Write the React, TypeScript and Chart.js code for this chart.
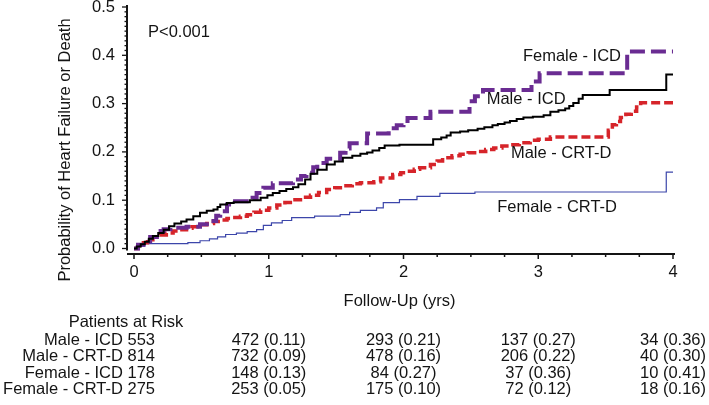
import React, { useEffect, useRef } from 'react';
import { Chart, registerables } from 'chart.js';

Chart.register(...registerables);

// ---------- data ----------
const maleIcdTime = [0, 0.02, 0.05, 0.08, 0.11, 0.14, 0.18, 0.22, 0.26, 0.30, 0.35, 0.39, 0.44, 0.49, 0.54, 0.59, 0.62, 0.64, 0.69, 0.74, 0.86, 0.94, 0.99, 1.03, 1.08, 1.13, 1.18, 1.22, 1.27, 1.31, 1.36, 1.43, 1.49, 1.55, 1.62, 1.68, 1.73, 1.77, 1.82, 1.86, 1.97, 2.22, 2.28, 2.32, 2.35, 2.42, 2.48, 2.55, 2.60, 2.66, 2.70, 2.75, 2.79, 2.84, 2.89, 2.96, 3.04, 3.09, 3.15, 3.20, 3.23, 3.26, 3.30, 3.33, 3.53, 3.95, 4.0];
const maleIcdProb = [0, 0.004, 0.009, 0.014, 0.020, 0.026, 0.032, 0.039, 0.046, 0.052, 0.056, 0.060, 0.067, 0.074, 0.078, 0.081, 0.086, 0.091, 0.094, 0.096, 0.100, 0.105, 0.110, 0.115, 0.119, 0.123, 0.127, 0.133, 0.143, 0.155, 0.163, 0.174, 0.180, 0.188, 0.192, 0.196, 0.199, 0.203, 0.208, 0.213, 0.215, 0.226, 0.230, 0.234, 0.240, 0.242, 0.245, 0.248, 0.251, 0.255, 0.258, 0.261, 0.264, 0.268, 0.271, 0.273, 0.276, 0.283, 0.286, 0.290, 0.295, 0.301, 0.310, 0.318, 0.328, 0.360, 0.360];

const maleCrtTime = [0, 0.03, 0.07, 0.10, 0.14, 0.19, 0.24, 0.29, 0.34, 0.39, 0.43, 0.49, 0.54, 0.59, 0.64, 0.69, 0.73, 0.79, 0.84, 0.89, 0.94, 1.0, 1.06, 1.12, 1.18, 1.25, 1.31, 1.37, 1.43, 1.49, 1.55, 1.62, 1.68, 1.78, 1.83, 1.92, 1.98, 2.03, 2.08, 2.12, 2.20, 2.25, 2.29, 2.36, 2.42, 2.48, 2.55, 2.61, 2.67, 2.73, 2.79, 2.86, 2.94, 3.0, 3.09, 3.52, 3.55, 3.58, 3.61, 3.65, 3.69, 3.73, 3.76, 4.0];
const maleCrtProb = [0, 0.005, 0.012, 0.018, 0.024, 0.028, 0.032, 0.036, 0.039, 0.042, 0.045, 0.049, 0.052, 0.056, 0.059, 0.062, 0.064, 0.067, 0.070, 0.075, 0.079, 0.084, 0.090, 0.095, 0.101, 0.106, 0.110, 0.116, 0.122, 0.126, 0.130, 0.134, 0.136, 0.138, 0.146, 0.153, 0.157, 0.160, 0.164, 0.167, 0.174, 0.181, 0.188, 0.192, 0.195, 0.198, 0.201, 0.205, 0.208, 0.212, 0.215, 0.219, 0.224, 0.226, 0.231, 0.245, 0.256, 0.263, 0.271, 0.278, 0.284, 0.293, 0.302, 0.302];

const femaleIcdTime = [0, 0.03, 0.07, 0.12, 0.17, 0.22, 0.27, 0.39, 0.49, 0.56, 0.61, 0.64, 0.69, 0.75, 0.88, 0.91, 0.96, 1.03, 1.18, 1.24, 1.28, 1.33, 1.36, 1.43, 1.53, 1.57, 1.60, 1.73, 1.89, 1.95, 2.0, 2.03, 2.20, 2.49, 2.53, 2.59, 2.95, 3.01, 3.66, 4.0];
const femaleIcdProb = [0, 0.008, 0.015, 0.024, 0.036, 0.040, 0.043, 0.045, 0.050, 0.057, 0.068, 0.077, 0.091, 0.098, 0.105, 0.115, 0.126, 0.135, 0.143, 0.150, 0.157, 0.168, 0.177, 0.186, 0.198, 0.207, 0.218, 0.238, 0.249, 0.255, 0.264, 0.270, 0.283, 0.305, 0.315, 0.328, 0.346, 0.363, 0.408, 0.408];

const femaleCrtTime = [0, 0.03, 0.08, 0.40, 0.49, 0.56, 0.62, 0.68, 0.76, 0.84, 0.91, 0.96, 1.02, 1.10, 1.17, 1.34, 1.53, 1.60, 1.68, 1.80, 1.85, 1.97, 2.10, 2.27, 2.53, 3.95, 4.0];
const femaleCrtProb = [0, 0.005, 0.010, 0.012, 0.016, 0.020, 0.024, 0.029, 0.032, 0.035, 0.039, 0.048, 0.053, 0.058, 0.064, 0.067, 0.070, 0.075, 0.079, 0.084, 0.095, 0.101, 0.108, 0.114, 0.117, 0.158, 0.158];

const xTickValues = [0, 1, 2, 3, 4];
const riskTimes = [1, 2, 3, 4];
const riskGroups = ['Male - ICD', 'Male - CRT-D', 'Female - ICD', 'Female - CRT-D'];
const riskBaseline = [553, 814, 178, 275];
const maleIcdAtRisk = [472, 293, 137, 34];
const maleIcdCumProb = [0.11, 0.21, 0.27, 0.36];
const maleCrtAtRisk = [732, 478, 206, 40];
const maleCrtCumProb = [0.09, 0.16, 0.22, 0.30];
const femaleIcdAtRisk = [148, 84, 37, 10];
const femaleIcdCumProb = [0.13, 0.27, 0.36, 0.41];
const femaleCrtAtRisk = [253, 175, 72, 18];
const femaleCrtCumProb = [0.05, 0.10, 0.12, 0.16];

// ---------- styling ----------
const FONT = '"Liberation Sans", Arial, Helvetica, sans-serif';
const FS = 16.5;
const INK = '#141414';

const toPoints = (t: number[], v: number[]) => t.map((x, i) => ({ x, y: v[i] }));

const curveLabels = [
  { text: 'Female - ICD', x: 3.25, y: 0.397 },
  { text: 'Male - ICD', x: 2.91, y: 0.308 },
  { text: 'Male - CRT-D', x: 3.17, y: 0.196 },
  { text: 'Female - CRT-D', x: 3.14, y: 0.086 },
];

const overlayPlugin = {
  id: 'overlay',
  afterDraw(chart: any) {
    const ctx = chart.ctx as CanvasRenderingContext2D;
    const xs = chart.scales.x;
    const ys = chart.scales.y;
    ctx.save();
    ctx.strokeStyle = INK;
    ctx.fillStyle = INK;
    ctx.lineCap = 'butt';

    // y axis (offset left of the data area)
    const axX = xs.getPixelForValue(0) - 7;
    ctx.lineWidth = 2;
    ctx.beginPath();
    ctx.moveTo(axX, ys.getPixelForValue(0.5) - 2);
    ctx.lineTo(axX, ys.getPixelForValue(0) + 2);
    ctx.stroke();
    ctx.lineWidth = 1.3;
    for (let i = 0; i <= 50; i++) {
      const y = ys.getPixelForValue(i / 100);
      const len = i % 10 === 0 ? 5 : 2.5;
      ctx.beginPath();
      ctx.moveTo(axX - len, y);
      ctx.lineTo(axX, y);
      ctx.stroke();
    }

    // x axis (offset below the data area)
    const axY = ys.getPixelForValue(0) + 5.5;
    ctx.lineWidth = 2;
    ctx.beginPath();
    ctx.moveTo(axX, axY);
    ctx.lineTo(xs.getPixelForValue(4) + 2, axY);
    ctx.stroke();
    ctx.lineWidth = 1.5;
    for (let i = 0; i <= 16; i++) {
      const x = xs.getPixelForValue(i / 4);
      const len = i % 4 === 0 ? 5 : 3;
      ctx.beginPath();
      ctx.moveTo(x, axY);
      ctx.lineTo(x, axY + len);
      ctx.stroke();
    }

    ctx.font = `${FS}px ${FONT}`;
    ctx.textBaseline = 'middle';

    // y title
    ctx.save();
    ctx.translate(65, 150);
    ctx.rotate(-Math.PI / 2);
    ctx.textAlign = 'center';
    ctx.fillText('Probability of Heart Failure or Death', 0, 0);
    ctx.restore();

    // x title
    ctx.textAlign = 'center';
    ctx.fillText('Follow-Up (yrs)', (xs.left + xs.right) / 2 - 4, 301);

    // p value
    ctx.textAlign = 'left';
    ctx.fillText('P<0.001', 148, 32);

    // curve labels
    ctx.textAlign = 'center';
    curveLabels.forEach((l) => {
      ctx.fillText(l.text, xs.getPixelForValue(l.x), ys.getPixelForValue(l.y));
    });

    // risk table
    ctx.fillText('Patients at Risk', 126, 322);
    const atRisk = [maleIcdAtRisk, maleCrtAtRisk, femaleIcdAtRisk, femaleCrtAtRisk];
    const cum = [maleIcdCumProb, maleCrtCumProb, femaleIcdCumProb, femaleCrtCumProb];
    riskGroups.forEach((g, r) => {
      const y = 340 + r * 16.6;
      ctx.textAlign = 'right';
      ctx.fillText(`${g} ${riskBaseline[r]}`, 155, y);
      ctx.textAlign = 'center';
      riskTimes.forEach((t, c) => {
        ctx.fillText(`${atRisk[r][c]} (${cum[r][c].toFixed(2)})`, xs.getPixelForValue(t), y);
      });
    });

    ctx.restore();
  },
};

export default function App() {
  const ref = useRef<HTMLCanvasElement | null>(null);

  useEffect(() => {
    if (!ref.current) return;
    const common = { pointRadius: 0, pointHoverRadius: 0, stepped: true as const, fill: false, clip: false as any, borderCapStyle: 'butt' as const };
    const chart = new Chart(ref.current, {
      type: 'line',
      data: {
        datasets: [
          { ...common, label: 'Male - ICD', data: toPoints(maleIcdTime, maleIcdProb), borderColor: '#000000', borderWidth: 2 },
          { ...common, label: 'Female - ICD', data: toPoints(femaleIcdTime, femaleIcdProb), borderColor: 'rgb(106,44,146)', borderWidth: 4, borderDash: [15, 6] },
          { ...common, label: 'Male - CRT-D', data: toPoints(maleCrtTime, maleCrtProb), borderColor: 'rgb(214,36,42)', borderWidth: 3.5, borderDash: [9, 4] },
          { ...common, label: 'Female - CRT-D', data: toPoints(femaleCrtTime, femaleCrtProb), borderColor: 'rgb(60,70,170)', borderWidth: 1.2 },
        ],
      },
      options: {
        responsive: false,
        animation: false,
        events: [],
        layout: { padding: { top: 7, right: 36, left: 0, bottom: 0 } },
        plugins: { legend: { display: false }, tooltip: { enabled: false }, title: { display: false } },
        scales: {
          x: {
            type: 'linear',
            min: 0,
            max: 4,
            afterBuildTicks: (s: any) => { s.ticks = xTickValues.map((v) => ({ value: v })); },
            afterFit: (s: any) => { s.height = 156.5; s.paddingLeft = 0; s.paddingRight = 0; },
            ticks: { color: INK, font: { family: FONT, size: FS }, padding: 14, maxRotation: 0, callback: (v: any) => String(v) },
            grid: { display: false, drawTicks: false },
            border: { display: false },
          },
          y: {
            type: 'linear',
            min: 0,
            max: 0.5,
            afterFit: (s: any) => { s.width = 134; s.paddingTop = 0; s.paddingBottom = 0; },
            ticks: { stepSize: 0.1, color: INK, font: { family: FONT, size: FS }, padding: 19, callback: (v: any) => Number(v).toFixed(1) },
            grid: { display: false, drawTicks: false },
            border: { display: false },
          },
        },
      },
      plugins: [overlayPlugin],
    });
    return () => chart.destroy();
  }, []);

  return (
    <div style={{ position: 'absolute', left: 0, top: 0, width: 709, height: 405, background: '#fff' }}>
      <canvas ref={ref} width={709} height={405} style={{ display: 'block' }} />
    </div>
  );
}
